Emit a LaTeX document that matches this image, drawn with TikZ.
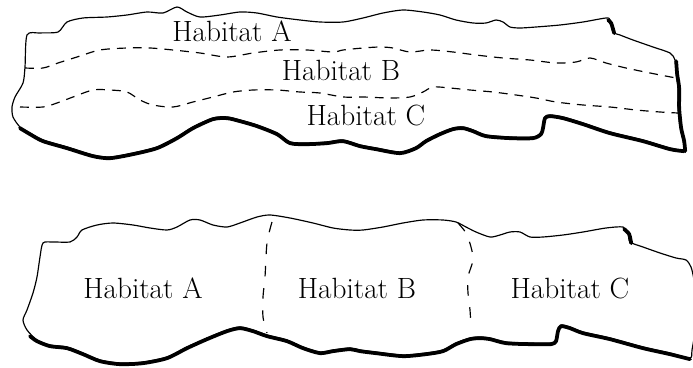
\documentclass[tikz,border=0pt]{standalone}
\usepackage{tikz}
\tikzset{patchline/.style = {draw=black, line width=1pt, line join=round},
         patchshadow/.style = {draw=black, line width=3.2pt, line cap=round, line join=round, yshift=-1pt},
         boundary/.style = {draw=black, line width=1pt, dash pattern=on 7.5pt off 6pt},
         habitat/.style = {font=\fontsize{25}{30}\selectfont, anchor=base, inner sep=0pt}}

\begin{document}
\begin{tikzpicture}[x=0.03cm, y=-0.03cm]
        \useasboundingbox (0,0) rectangle (693,368);

        \begin{scope}
            \draw [patchline] plot [smooth cycle, tension=0.45] coordinates {
                (27,35) (40,33) (58,32) (67,22) (83,18) (107,17) (127,15) (147,12) (163,13)
                (177,7) (187,12) (200,17) (220,15) (240,12) (257,13) (277,17) (300,20) (320,22)
                (343,22) (363,18) (383,13) (403,10) (423,12) (440,15) (456,20) (473,23) (486,23)
                (496,20) (503,22) (510,27) (520,28) (536,27) (560,25) (583,22) (606,18) (610,20)
                (613,32) (620,35) (633,40) (653,47) (670,53) (675,60) (676,73) (678,87) (678,107)
                (680,127) (683,140) (684,150) (670,148) (643,140) (610,132) (583,123) (563,117)
                (550,115) (545,117) (543,127) (541,133) (533,137) (510,137) (486,135) (473,130)
                (463,127) (453,128) (440,133) (426,140) (416,147) (400,152) (376,148) (360,145)
                (343,140) (327,142) (307,143) (290,142) (277,133) (257,125) (240,120) (227,117)
                (213,118) (193,127) (177,137) (157,147) (133,153) (110,157) (93,155) (67,147)
                (43,140) (30,133) (20,127) (13,117) (12,107) (15,97) (23,83) (25,67)};
            \draw [patchshadow] plot [smooth, tension=0.45] coordinates {
                (20,127) (30,133) (43,140) (67,147) (93,155) (110,157) (133,153) (157,147)
                (177,137) (193,127) (213,118) (227,117) (240,120) (257,125) (277,133) (290,142)
                (307,143) (327,142) (343,140) (360,145) (376,148) (400,152) (416,147) (426,140)
                (440,133) (453,128) (463,127) (473,130) (486,135) (510,137) (533,137) (541,133)
                (543,127) (545,117) (550,115) (563,117) (583,123) (610,132) (643,140) (670,148)
                (684,150)};
            \draw [patchshadow, xshift=1pt] plot [smooth, tension=0.45] coordinates {
                (684,150) (683,140) (680,127) (678,107) (678,87) (676,73) (675,60)};
            \draw [patchshadow, xshift=1pt] plot [smooth, tension=0.45] coordinates {
                (607,19) (610,22) (613,32)};

            \draw [boundary] plot [smooth, tension=0.5] coordinates {
                (25,68) (43,68) (58,63) (77,57) (100,50) (127,48) (150,48) (173,50) (200,53)
                (227,57) (253,53) (280,50) (307,50) (333,52) (343,50) (363,48) (380,47) (393,48)
                (410,52) (430,50) (453,52) (476,55) (503,58) (530,60) (556,63) (576,62) (590,58)
                (606,63) (626,68) (650,73) (676,78)};
            \draw [boundary] plot [smooth, tension=0.5] coordinates {
                (20,107) (43,107) (57,103) (73,97) (93,90) (110,90) (127,92) (140,100) (153,105)
                (173,107) (193,102) (213,97) (233,92) (253,90) (277,90) (300,92) (320,93) (343,97)
                (363,97) (390,98) (410,97) (423,92) (433,87) (450,88) (470,90) (493,92) (516,95)
                (536,98) (556,102) (583,105) (610,107) (636,110) (660,112) (678,113)};

            \node [habitat] (topA) at (232,42)  {Habitat A};
            \node [habitat] (topB) at (341,81)  {Habitat B};
            \node [habitat] (topC) at (366,126) {Habitat C};
        \end{scope}

        \begin{scope}
            \draw [patchline] plot [smooth cycle, tension=0.45] coordinates {
                (43,243) (53,242) (70,242) (77,237) (82,230) (97,225) (113,223) (133,225) (150,228)
                (167,230) (177,227) (190,220) (200,220) (213,225) (227,227) (240,223) (257,217)
                (270,215) (290,218) (313,223) (333,228) (350,230) (363,230) (383,227) (403,223)
                (423,220) (443,220) (456,222) (466,227) (476,232) (490,237) (500,235) (510,232)
                (520,232) (530,237) (543,237) (563,235) (583,232) (606,228) (623,227) (628,233)
                (630,242) (643,247) (660,253) (676,258) (686,260) (691,267) (694,280) (696,300)
                (695,330) (692,350) (690,358) (670,353) (643,347) (610,338) (583,332) (570,327)
                (561,325) (558,330) (556,340) (551,343) (530,343) (506,342) (490,338) (480,337)
                (470,338) (456,343) (443,350) (426,353) (403,355) (376,352) (360,350) (350,348)
                (333,350) (320,352) (303,347) (287,340) (267,335) (253,330) (240,327) (227,330)
                (207,338) (187,347) (167,357) (143,362) (120,363) (100,360) (83,353) (67,347)
                (50,345) (37,340) (27,330) (23,320) (27,310) (33,293) (37,277) (40,257)};
            \draw [patchshadow] plot [smooth, tension=0.45] coordinates {
                (30,335) (37,340) (50,345) (67,347) (83,353) (100,360) (120,363) (143,362)
                (167,357) (187,347) (207,338) (227,330) (240,327) (253,330) (267,335) (287,340)
                (303,347) (320,352) (333,350) (350,348) (360,350) (376,352) (403,355) (426,353)
                (443,350) (456,343) (470,338) (480,337) (490,338) (506,342) (530,343) (551,343)
                (556,340) (558,330) (561,325) (570,327) (583,332) (610,338) (643,347) (670,353)
                (690,358)};
            \draw [patchshadow, xshift=1pt] plot [smooth, tension=0.45] coordinates {
                (623,228) (628,233) (630,242)};

            \draw [boundary, dash pattern=on 9pt off 10pt] plot [smooth, tension=0.5] coordinates {
                (272,222) (267,243) (265,277) (263,297) (263,317) (267,333)};
            \draw [boundary, dash pattern=on 9pt off 10pt] plot [smooth, tension=0.5] coordinates {
                (458,223) (466,233) (471,247) (473,260) (468,277) (468,293) (470,310) (471,328)};

            \node [habitat] (botA) at (143,298) {Habitat A};
            \node [habitat] (botB) at (357,298) {Habitat B};
            \node [habitat] (botC) at (570,298) {Habitat C};
        \end{scope}
    \end{tikzpicture}
\end{document}
